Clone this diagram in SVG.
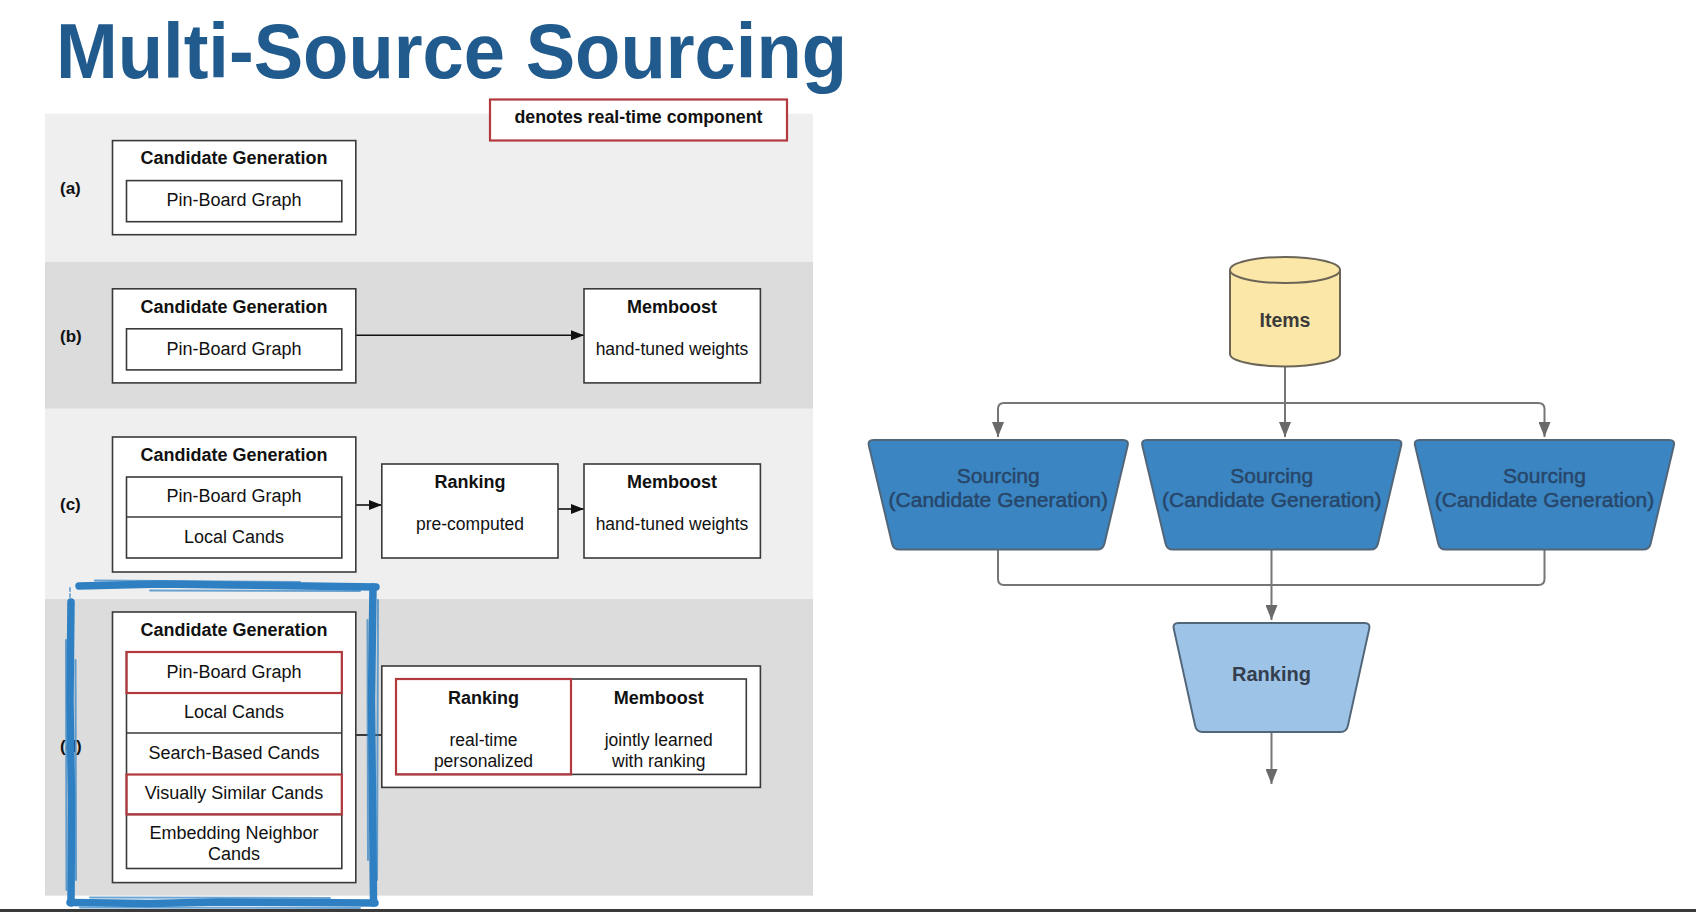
<svg xmlns="http://www.w3.org/2000/svg" width="1696" height="912" viewBox="0 0 1696 912">
<style>
  .t { font-family: "Liberation Sans", Arial, sans-serif; fill: #111; }
  .b { font-weight: bold; }
  .box { fill: #fff; stroke: #3a3a3a; stroke-width: 1.6; }
  .rbox { fill: #fff; stroke: #b23a3f; stroke-width: 2.2; }
  .rline { fill: none; stroke: #b23a3f; stroke-width: 2.2; }
  .conn { fill: none; stroke: #111; stroke-width: 1.6; }
  .gconn { fill: none; stroke: #767676; stroke-width: 2; }
  .src { fill: #3b86c2; stroke: #52667a; stroke-width: 2; }
  .rank { fill: #9dc3e7; stroke: #52667a; stroke-width: 2; }
  .st { font-family: "Liberation Sans", Arial, sans-serif; fill: #27466a; stroke: #27466a; stroke-width: 0.5; font-size: 21px; text-anchor: middle; }
  .blue { fill: none; stroke: #2f80c2; stroke-linecap: round; }
</style>
<defs>
  <marker id="ah" markerUnits="userSpaceOnUse" markerWidth="14" markerHeight="10" refX="13" refY="5" orient="auto">
    <path d="M0,0 L13,5 L0,10 Z" fill="#111"/>
  </marker>
  <marker id="gh" markerUnits="userSpaceOnUse" markerWidth="16" markerHeight="12" refX="15" refY="6" orient="auto">
    <path d="M0,0 L15,6 L0,12 Z" fill="#6a6a6a"/>
  </marker>
  <path id="trap" d="M6,0 L255.5,0 Q261.5,0 260.1,5.8 L236.9,103.7 Q235.5,109.5 229.5,109.5 L32,109.5 Q26,109.5 24.6,103.7 L1.4,5.8 Q0,0 6,0 Z"/>
</defs>

<rect x="0" y="0" width="1696" height="912" fill="#fff"/>

<!-- title -->
<text id="title" class="t b" x="56" y="78" font-size="78" style="fill:#215a8d" textLength="791" lengthAdjust="spacingAndGlyphs">Multi-Source Sourcing</text>

<!-- background bands -->
<g id="bands">
  <rect x="45" y="113.6" width="768" height="148.2" fill="#efefef"/>
  <rect x="45" y="261.8" width="768" height="147" fill="#dcdcdc"/>
  <rect x="45" y="408.8" width="768" height="190.2" fill="#efefef"/>
  <rect x="45" y="599" width="768" height="296.6" fill="#dcdcdc"/>
</g>

<g id="legend">
  <rect class="rbox" x="490" y="99.5" width="297" height="41"/>
  <text class="t b" x="638.5" y="123" font-size="17.8" text-anchor="middle">denotes real-time component</text>
</g>

<!-- row labels -->
<g id="labels">
  <text class="t b" x="60" y="194" font-size="17">(a)</text>
  <text class="t b" x="60" y="342" font-size="17">(b)</text>
  <text class="t b" x="60" y="510" font-size="17">(c)</text>
  <text class="t b" x="60" y="752" font-size="17">(d)</text>
</g>

<!-- connectors left panel -->
<g id="connectors-left">
  <path class="conn" d="M355.8,335.3 H584" marker-end="url(#ah)"/>
  <path class="conn" d="M355.8,505 H381.8" marker-end="url(#ah)"/>
  <path class="conn" d="M558,509 H584" marker-end="url(#ah)"/>
  <path class="conn" d="M355.8,735 H381.8"/>
</g>

<!-- (a) -->
<g id="a-candgen">
  <rect class="box" x="112.5" y="140.6" width="243.3" height="94.1"/>
  <text class="t b" x="234" y="164" font-size="18" text-anchor="middle">Candidate Generation</text>
  <rect class="box" x="126.5" y="180.6" width="215.3" height="41.1"/>
  <text class="t" x="234" y="206" font-size="18" text-anchor="middle">Pin-Board Graph</text>
</g>

<!-- (b) -->
<g id="b-candgen">
  <rect class="box" x="112.5" y="288.8" width="243.3" height="94.1"/>
  <text class="t b" x="234" y="312.5" font-size="18" text-anchor="middle">Candidate Generation</text>
  <rect class="box" x="126.5" y="328.8" width="215.3" height="41.1"/>
  <text class="t" x="234" y="354.5" font-size="18" text-anchor="middle">Pin-Board Graph</text>
</g>
<g id="b-memboost">
  <rect class="box" x="584" y="288.8" width="176.4" height="94.1"/>
  <text class="t b" x="672" y="312.5" font-size="18" text-anchor="middle">Memboost</text>
  <text class="t" x="672" y="354.5" font-size="17.5" text-anchor="middle">hand-tuned weights</text>
</g>

<!-- (c) -->
<g id="c-candgen">
  <rect class="box" x="112.5" y="437" width="243.3" height="135"/>
  <text class="t b" x="234" y="460.5" font-size="18" text-anchor="middle">Candidate Generation</text>
  <rect class="box" x="126.5" y="477" width="215.3" height="81"/>
  <line x1="126.5" y1="517" x2="341.8" y2="517" stroke="#3a3a3a" stroke-width="1.6"/>
  <text class="t" x="234" y="502" font-size="18" text-anchor="middle">Pin-Board Graph</text>
  <text class="t" x="234" y="542.5" font-size="18" text-anchor="middle">Local Cands</text>
</g>
<g id="c-ranking">
  <rect class="box" x="381.8" y="464" width="176.2" height="94"/>
  <text class="t b" x="470" y="487.5" font-size="18" text-anchor="middle">Ranking</text>
  <text class="t" x="470" y="529.5" font-size="17.5" text-anchor="middle">pre-computed</text>
</g>
<g id="c-memboost">
  <rect class="box" x="584" y="464" width="176.4" height="94"/>
  <text class="t b" x="672" y="487.5" font-size="18" text-anchor="middle">Memboost</text>
  <text class="t" x="672" y="529.5" font-size="17.5" text-anchor="middle">hand-tuned weights</text>
</g>

<!-- (d) -->
<g id="d-candgen">
  <rect class="box" x="112.5" y="612" width="243.3" height="270.6"/>
  <text class="t b" x="234" y="636" font-size="18" text-anchor="middle">Candidate Generation</text>
  <rect class="box" x="126.5" y="652" width="215.3" height="216.5"/>
  <line x1="126.5" y1="733" x2="341.8" y2="733" stroke="#3a3a3a" stroke-width="1.6"/>
  <line x1="126.5" y1="814.4" x2="341.8" y2="814.4" stroke="#3a3a3a" stroke-width="1.6"/>
  <rect class="rline" x="126.5" y="652" width="215.3" height="41"/>
  <rect class="rline" x="126.5" y="774.5" width="215.3" height="39.9"/>
  <text class="t" x="234" y="677.5" font-size="18" text-anchor="middle">Pin-Board Graph</text>
  <text class="t" x="234" y="718" font-size="18" text-anchor="middle">Local Cands</text>
  <text class="t" x="234" y="758.7" font-size="18" text-anchor="middle">Search-Based Cands</text>
  <text class="t" x="234" y="799" font-size="18" text-anchor="middle">Visually Similar Cands</text>
  <text class="t" x="234" y="839" font-size="18" text-anchor="middle">Embedding Neighbor</text>
  <text class="t" x="234" y="859.5" font-size="18" text-anchor="middle">Cands</text>
</g>
<g id="d-rank-memboost">
  <rect class="box" x="381.8" y="666" width="378.6" height="121.4"/>
  <rect class="box" x="396" y="679" width="350.3" height="95.4"/>
  <rect class="rline" x="396" y="679" width="175" height="95.4"/>
  <text class="t b" x="483.5" y="704" font-size="18" text-anchor="middle">Ranking</text>
  <text class="t" x="483.5" y="746" font-size="17.5" text-anchor="middle">real-time</text>
  <text class="t" x="483.5" y="766.5" font-size="17.5" text-anchor="middle">personalized</text>
  <text class="t b" x="658.7" y="704" font-size="18" text-anchor="middle">Memboost</text>
  <text class="t" x="658.7" y="746" font-size="17.5" text-anchor="middle">jointly learned</text>
  <text class="t" x="658.7" y="766.5" font-size="17.5" text-anchor="middle">with ranking</text>
</g>

<!-- hand-drawn blue highlight -->
<g id="highlight">
  <path class="blue" stroke-width="7.5" d="M79,586 L160,584 L230,585 L376,587"/>
  <path class="blue" stroke-width="7.5" d="M373,587 L371.5,700 L372.5,800 L373.5,903"/>
  <path class="blue" stroke-width="7.5" d="M70,902.5 L150,903.5 L220,902 L375,903"/>
  <path class="blue" stroke-width="7.5" d="M71,602 L70,700 L71.5,800 L71,903"/>
  <path class="blue" stroke-width="2" opacity="0.6" d="M70,588 V598" stroke-dasharray="3 3"/>
  <path class="blue" stroke-width="2" opacity="0.7" d="M95,580.5 L300,582"/>
  <path class="blue" stroke-width="2" opacity="0.7" d="M150,590.5 L360,591"/>
  <path class="blue" stroke-width="2" opacity="0.7" d="M378,600 L377,880"/>
  <path class="blue" stroke-width="2" opacity="0.7" d="M367.5,620 L368,860"/>
  <path class="blue" stroke-width="2" opacity="0.7" d="M66,640 L66.5,890"/>
  <path class="blue" stroke-width="2" opacity="0.7" d="M75.5,660 L76,880"/>
  <path class="blue" stroke-width="2" opacity="0.7" d="M80,907.5 L360,908"/>
  <path class="blue" stroke-width="2" opacity="0.7" d="M90,897.5 L330,898"/>
</g>

<!-- right flowchart -->
<g id="connectors-right">
  <path class="gconn" d="M1285,367 V437" marker-end="url(#gh)"/>
  <path class="gconn" d="M1004,403 H1538 Q1544.5,403 1544.5,409 V437" marker-end="url(#gh)"/>
  <path class="gconn" d="M1004,403 Q998,403 998,409 V437" marker-end="url(#gh)"/>
  <path class="gconn" d="M998,550 V579 Q998,585 1004,585 H1538.5 Q1544.5,585 1544.5,579 V550"/>
  <path class="gconn" d="M1271.5,550 V620" marker-end="url(#gh)"/>
  <path class="gconn" d="M1271.5,733 V784" marker-end="url(#gh)"/>
</g>

<g id="items">
  <path d="M1230,270 V354 A55,12.5 0 0 0 1340,354 V270" fill="#fbe8a8" stroke="#6b6557" stroke-width="2"/>
  <ellipse cx="1285" cy="270" rx="55" ry="13" fill="#fbe8a8" stroke="#6b6557" stroke-width="2"/>
  <text class="t b" x="1285" y="327" font-size="19.5" text-anchor="middle" style="fill:#3b3b3b">Items</text>
</g>

<g id="sourcing-1">
  <use href="#trap" class="src" x="867.5" y="440"/>
  <text class="st" x="998.3" y="483">Sourcing</text>
  <text class="st" x="998.3" y="507">(Candidate Generation)</text>
</g>
<g id="sourcing-2">
  <use href="#trap" class="src" x="1141" y="440"/>
  <text class="st" x="1271.8" y="483">Sourcing</text>
  <text class="st" x="1271.8" y="507">(Candidate Generation)</text>
</g>
<g id="sourcing-3">
  <use href="#trap" class="src" x="1413.7" y="440"/>
  <text class="st" x="1544.5" y="483">Sourcing</text>
  <text class="st" x="1544.5" y="507">(Candidate Generation)</text>
</g>

<g id="ranking">
  <path class="rank" d="M1178.5,623 L1364.5,623 Q1370.5,623 1369.2,628.9 L1347.8,726.1 Q1346.5,732 1340.5,732 L1202.5,732 Q1196.5,732 1195.2,726.1 L1173.8,628.9 Q1172.5,623 1178.5,623 Z"/>
  <text class="t b" x="1271.5" y="681" font-size="20" text-anchor="middle" style="fill:#343e4e">Ranking</text>
</g>

<rect id="bottom-bar" x="0" y="909" width="1696" height="3" fill="#3a3a3a"/>
</svg>
